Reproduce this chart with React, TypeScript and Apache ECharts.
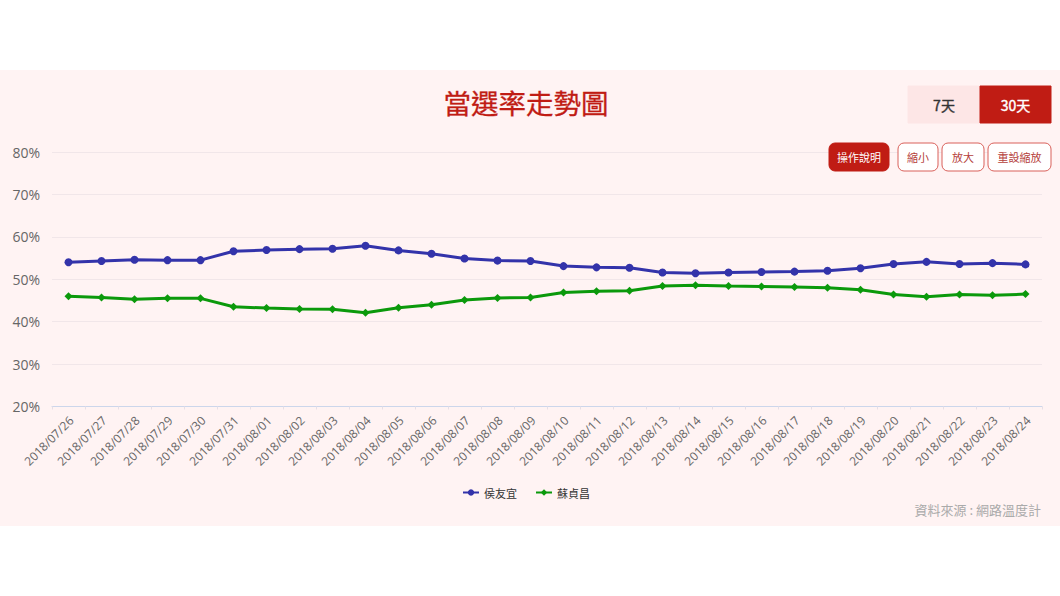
import { useEffect, useRef } from "react";
import * as echarts from "echarts";

const dates = [
  "2018/07/26", "2018/07/27", "2018/07/28", "2018/07/29", "2018/07/30", "2018/07/31",
  "2018/08/01", "2018/08/02", "2018/08/03", "2018/08/04", "2018/08/05", "2018/08/06",
  "2018/08/07", "2018/08/08", "2018/08/09", "2018/08/10", "2018/08/11", "2018/08/12",
  "2018/08/13", "2018/08/14", "2018/08/15", "2018/08/16", "2018/08/17", "2018/08/18",
  "2018/08/19", "2018/08/20", "2018/08/21", "2018/08/22", "2018/08/23", "2018/08/24",
];
const hou = [
  54.0, 54.3, 54.6, 54.5, 54.5, 56.6, 56.9, 57.1, 57.2, 57.9, 56.8, 56.0, 54.9, 54.4, 54.3,
  53.1, 52.8, 52.7, 51.6, 51.4, 51.6, 51.7, 51.8, 52.0, 52.6, 53.6, 54.1, 53.6, 53.8, 53.5,
];
const su = [
  46.0, 45.7, 45.3, 45.5, 45.5, 43.5, 43.2, 43.0, 42.9, 42.1, 43.3, 44.0, 45.1, 45.6, 45.7,
  46.9, 47.2, 47.3, 48.4, 48.6, 48.4, 48.3, 48.2, 48.0, 47.5, 46.4, 45.9, 46.4, 46.2, 46.5,
];

const FONT = '"Noto Sans CJK TC", "Open Sans", sans-serif';
const RED = "#c01c14";

// label, x, y, width, height, fill, border, text colour, font size, outline
const buttons: Array<[string, number, number, number, number, string, string, string, number, number]> = [
  ["7天", 908, 86, 72, 37, "#fde6e6", "#fde6e6", "#333333", 14, 0.4],
  ["30天", 980, 86, 71, 37, RED, RED, "#ffffff", 14, 0.4],
  ["操作說明", 829, 143, 60, 28, RED, RED, "#ffffff", 11, 0],
  ["縮小", 898, 143, 40, 28, "#ffffff", "#d9605a", "#b5403a", 11, 0],
  ["放大", 942, 143, 42, 28, "#ffffff", "#d9605a", "#b5403a", 11, 0],
  ["重設縮放", 988, 143, 63, 28, "#ffffff", "#d9605a", "#b5403a", 11, 0],
];

export default function App() {
  const chartRef = useRef<HTMLDivElement>(null);

  useEffect(() => {
    if (!chartRef.current) return;
    const chart = echarts.init(chartRef.current, undefined, { renderer: "svg" });

    const buttonGraphics = buttons.flatMap(([label, x, y, w, h, fill, stroke, color, size, outline]) => [
      {
        type: "rect",
        z: 10,
        shape: { x, y, width: w, height: h, r: h > 30 ? 0 : 6 },
        style: { fill, stroke, lineWidth: 1 },
      },
      {
        type: "text",
        z: 11,
        x: x + w / 2,
        y: y + h / 2,
        style: {
          text: label,
          fill: color,
          stroke: outline ? color : undefined,
          lineWidth: outline,
          fontSize: size,
          fontFamily: FONT,
          textAlign: "center",
          textVerticalAlign: "middle",
        },
      },
    ]);

    chart.setOption({
      animation: false,
      backgroundColor: "#ffffff",
      title: {
        text: "當選率走勢圖",
        left: 521,
        top: 83,
        textAlign: "center",
        textStyle: {
          color: RED,
          fontSize: 27.5,
          fontWeight: 400,
          fontFamily: FONT,
          textBorderColor: RED,
          textBorderWidth: 0.3,
        },
      },
      graphic: [
        {
          type: "rect",
          z: -10,
          silent: true,
          shape: { x: 0, y: 70, width: 1060, height: 456 },
          style: { fill: "#fff3f3" },
        },
        {
          type: "text",
          z: 10,
          x: 1041,
          y: 509,
          style: {
            text: "資料來源 : 網路溫度計",
            fill: "#aaaaaa",
            fontSize: 13,
            fontFamily: FONT,
            textAlign: "right",
            textVerticalAlign: "middle",
          },
        },
        ...buttonGraphics,
      ],
      legend: {
        left: 457,
        top: 482,
        itemWidth: 16,
        itemHeight: 8,
        itemGap: 18,
        textStyle: { color: "#333333", fontSize: 11, fontFamily: FONT },
        data: ["侯友宜", "蘇貞昌"],
      },
      grid: { left: 52, right: 18, top: 152, bottom: 189.5 },
      xAxis: {
        type: "category",
        data: dates,
        axisLine: { lineStyle: { color: "#ccd6eb" } },
        axisTick: { show: true, alignWithLabel: false, length: 3, lineStyle: { color: "#e6dfe6" } },
        axisLabel: {
          interval: 0,
          rotate: 45,
          color: "#666666",
          fontSize: 12,
          margin: 9,
          verticalAlign: "top",
          lineHeight: 8,
          fontFamily: '"Open Sans", sans-serif',
        },
      },
      yAxis: {
        type: "value",
        min: 20,
        max: 80,
        interval: 10,
        axisLine: { show: false },
        axisTick: { show: false },
        splitLine: { lineStyle: { color: "#f1e6e9", width: 1 } },
        axisLabel: {
          formatter: "{value}%",
          color: "#666666",
          fontSize: 14,
          margin: 12,
          fontFamily: '"Open Sans", sans-serif',
        },
      },
      series: [
        {
          name: "侯友宜",
          type: "line",
          data: hou,
          symbol: "circle",
          symbolSize: 8,
          lineStyle: { color: "#3333aa", width: 3 },
          itemStyle: { color: "#3333aa" },
        },
        {
          name: "蘇貞昌",
          type: "line",
          data: su,
          symbol: "diamond",
          symbolSize: 8,
          lineStyle: { color: "#0b990b", width: 3 },
          itemStyle: { color: "#0b990b" },
        },
      ],
    });

    return () => chart.dispose();
  }, []);

  return (
    <div
      ref={chartRef}
      style={{ position: "absolute", left: 0, top: 0, width: 1060, height: 596 }}
    />
  );
}
